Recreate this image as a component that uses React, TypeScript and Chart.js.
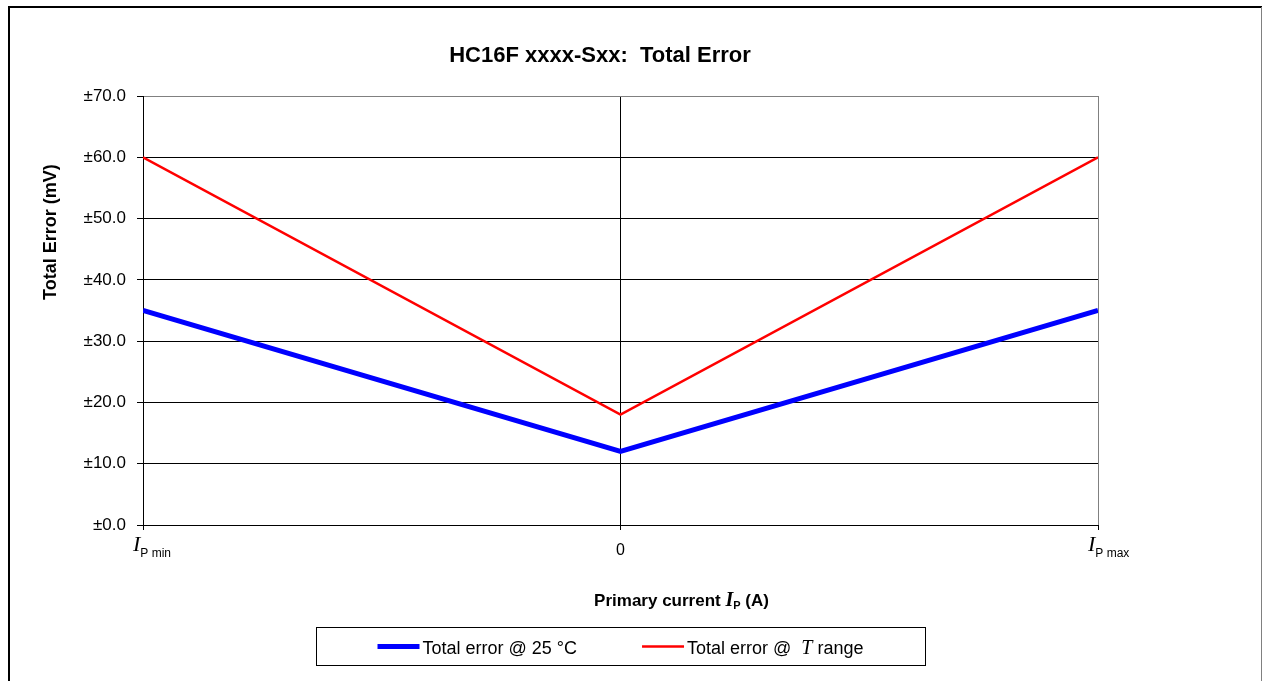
import React, { useEffect, useRef } from 'react';
import { Chart, registerables } from 'chart.js';

Chart.register(...registerables);

// ---- data ----
const xValues = [-1, 0, 1];
const error25C = [35, 12, 35];
const errorTRange = [60, 18, 60];
const yMin = 0;
const yMax = 70;
const yStep = 10;
const xTickMain = ['I', '0', 'I'];
const xTickSub = ['P min', '', 'P max'];
const seriesNames = ['Total error @ 25 °C', 'Total error @ T range'];
const seriesColors = ['#0000ff', '#ff0000'];
const seriesWidths = [5, 2.5];
const chartTitle = 'HC16F xxxx-Sxx:  Total Error';
const yTitle = 'Total Error (mV)';

const SANS = '"Liberation Sans", Arial, sans-serif';
const SERIF = '"Liberation Serif", "Times New Roman", serif';

type Run = { text: string; font: string; dy?: number };

function runsWidth(ctx: CanvasRenderingContext2D, runs: Run[]) {
  let w = 0;
  for (const r of runs) {
    ctx.font = r.font;
    w += ctx.measureText(r.text).width;
  }
  return w;
}

function drawRuns(ctx: CanvasRenderingContext2D, runs: Run[], x: number, y: number) {
  let cx = x;
  ctx.textAlign = 'left';
  ctx.textBaseline = 'alphabetic';
  for (const r of runs) {
    ctx.font = r.font;
    ctx.fillText(r.text, cx, y + (r.dy || 0));
    cx += ctx.measureText(r.text).width;
  }
  return cx;
}

// split a legend label so the symbol "T" is set in italic serif
function legendRuns(label: string): Run[] {
  const font = `18px ${SANS}`;
  const m = label.match(/^(.*@ )T( .*)$/);
  if (m) {
    return [
      { text: m[1] + ' ', font },
      { text: 'T', font: `italic 20px ${SERIF}` },
      { text: m[2], font },
    ];
  }
  return [{ text: label, font }];
}

const customPlugin = {
  id: 'customDecor',
  beforeDraw(chart: any) {
    const { ctx, width, height } = chart;
    ctx.save();
    ctx.fillStyle = '#ffffff';
    ctx.fillRect(0, 0, width, height);
    ctx.strokeStyle = '#000';
    ctx.lineWidth = 2;
    ctx.beginPath();
    ctx.moveTo(9, height);
    ctx.lineTo(9, 7);
    ctx.lineTo(1262, 7);
    ctx.stroke();
    ctx.strokeStyle = '#808080';
    ctx.lineWidth = 1;
    ctx.beginPath();
    ctx.moveTo(1261.5, 7);
    ctx.lineTo(1261.5, height);
    ctx.stroke();
    ctx.restore();
  },
  afterDraw(chart: any) {
    const { ctx, chartArea } = chart;
    const xs = chart.scales.x;
    ctx.save();
    ctx.fillStyle = '#000';

    // chart title
    ctx.font = `bold 22px ${SANS}`;
    ctx.textAlign = 'center';
    ctx.textBaseline = 'alphabetic';
    ctx.fillText(chartTitle, 600, 62);

    // x tick labels
    xs.ticks.forEach((t: any) => {
      const i = xValues.indexOf(t.value);
      if (i < 0) return;
      const px = xs.getPixelForValue(t.value);
      if (xTickSub[i]) {
        const runs: Run[] = [
          { text: xTickMain[i], font: `italic 22px ${SERIF}` },
          { text: xTickSub[i], font: `12px ${SANS}`, dy: 6 },
        ];
        drawRuns(ctx, runs, px - 10, chartArea.bottom + 26);
      } else {
        ctx.font = `16px ${SANS}`;
        ctx.textAlign = 'center';
        ctx.textBaseline = 'alphabetic';
        ctx.fillText(xTickMain[i], px, chartArea.bottom + 30);
      }
    });

    // x axis title
    const xt: Run[] = [
      { text: 'Primary current ', font: `bold 17px ${SANS}` },
      { text: 'I', font: `italic bold 20px ${SERIF}` },
      { text: 'P', font: `bold 11px ${SANS}`, dy: 3 },
      { text: ' (A)', font: `bold 17px ${SANS}` },
    ];
    const xtw = runsWidth(ctx, xt);
    const xcenter = (chartArea.left + chartArea.right) / 2 + 61;
    drawRuns(ctx, xt, xcenter - xtw / 2, chartArea.bottom + 81);

    // y axis title
    ctx.save();
    ctx.translate(56, 300);
    ctx.rotate(-Math.PI / 2);
    ctx.font = `bold 18px ${SANS}`;
    ctx.textAlign = 'left';
    ctx.textBaseline = 'alphabetic';
    ctx.fillText(yTitle, 0, 0);
    ctx.restore();

    // legend box
    const boxW = 609;
    const boxH = 38;
    const cx = (chartArea.left + chartArea.right) / 2;
    const boxL = Math.round(cx - boxW / 2) + 0.5;
    const boxT = chartArea.bottom + 102.5;
    ctx.strokeStyle = '#000';
    ctx.lineWidth = 1;
    ctx.strokeRect(boxL, boxT, boxW, boxH);

    const lineLen = 42;
    const gap = 3;
    const itemGap = 65;
    const items = chart.data.datasets.map((ds: any) => {
      const runs = legendRuns(ds.label);
      return { ds, runs, w: lineLen + gap + runsWidth(ctx, runs) };
    });
    const total = items.reduce((s: number, it: any) => s + it.w, 0) + itemGap * (items.length - 1);
    let ix = cx - total / 2;
    const ly = boxT + 19;
    items.forEach((it: any) => {
      ctx.strokeStyle = it.ds.borderColor;
      ctx.lineWidth = it.ds.borderWidth;
      ctx.beginPath();
      ctx.moveTo(ix, ly);
      ctx.lineTo(ix + lineLen, ly);
      ctx.stroke();
      ctx.fillStyle = '#000';
      drawRuns(ctx, it.runs, ix + lineLen + gap, ly + 7);
      ix += it.w + itemGap;
    });

    ctx.restore();
  },
};

export default function App() {
  const ref = useRef<HTMLCanvasElement | null>(null);

  useEffect(() => {
    if (!ref.current) return;
    Chart.defaults.color = '#000';
    const datasets = [error25C, errorTRange].map((vals, k) => ({
      label: seriesNames[k],
      data: xValues.map((x, i) => ({ x, y: vals[i] })),
      borderColor: seriesColors[k],
      backgroundColor: seriesColors[k],
      borderWidth: seriesWidths[k],
      pointRadius: 0,
      tension: 0,
      fill: false,
    }));

    const chart = new Chart(ref.current, {
      type: 'line',
      data: { datasets },
      plugins: [customPlugin],
      options: {
        animation: false,
        responsive: false,
        devicePixelRatio: 1,
        layout: { padding: { left: 0, right: 165, top: 96, bottom: 0 } },
        plugins: {
          legend: { display: false },
          tooltip: { enabled: false },
          title: { display: false },
        },
        scales: {
          x: {
            type: 'linear',
            min: -1,
            max: 1,
            ticks: {
              stepSize: 1,
              callback: () => '',
            },
            grid: {
              color: (c: any) => (c.tick && c.tick.value === 1 ? '#808080' : '#000'),
              tickColor: '#000',
              tickLength: 5,
              lineWidth: 1,
            },
            border: { color: '#000', width: 1 },
            afterFit: (s: any) => {
              s.height = 156;
            },
          },
          y: {
            type: 'linear',
            min: yMin,
            max: yMax,
            ticks: {
              stepSize: yStep,
              padding: 11,
              color: '#000',
              font: { family: SANS, size: 17 },
              callback: (v: any) => '±' + Number(v).toFixed(1),
            },
            grid: {
              color: (c: any) => (c.tick && c.tick.value === yMax ? '#808080' : '#000'),
              tickColor: '#000',
              tickLength: 6,
              lineWidth: 1,
            },
            border: { color: '#000', width: 1 },
            afterFit: (s: any) => {
              s.width = 143;
            },
          },
        },
      } as any,
    });
    return () => chart.destroy();
  }, []);

  return (
    <canvas
      ref={ref}
      width={1263}
      height={681}
      style={{ position: 'absolute', left: 0, top: 0, width: 1263, height: 681 }}
    />
  );
}
